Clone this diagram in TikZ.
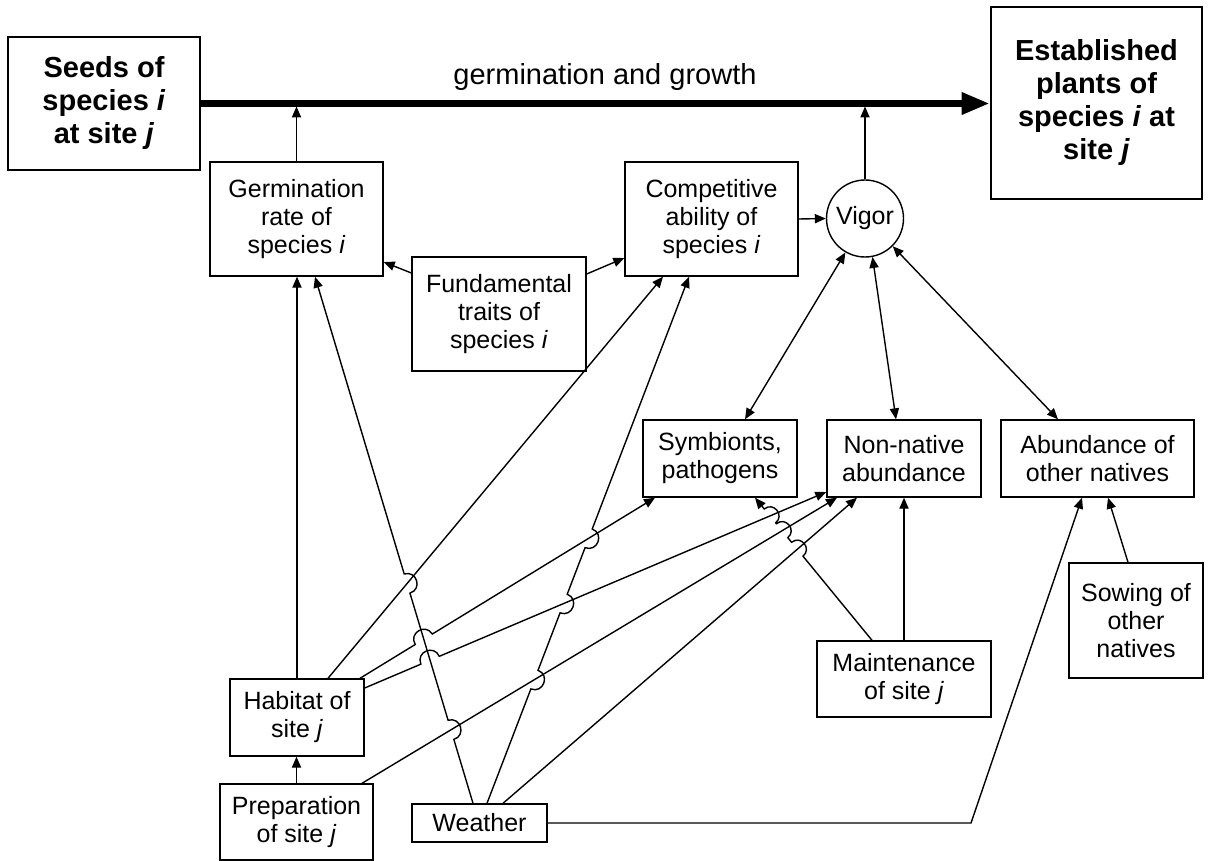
\documentclass[tikz,border=0pt]{standalone}
\usepackage{fontspec}
\setmainfont{Liberation Sans}
\usetikzlibrary{arrows.meta,calc,intersections}
\begin{document}
\begin{tikzpicture}[x=0.5pt,y=-0.5pt,
  box/.style={draw, line width=0.7pt, align=center, inner sep=0pt, font=\fontsize{12.5}{14}\selectfont},
  bigbox/.style={draw, line width=1.4pt, align=center, inner sep=0pt, font=\fontsize{14.5}{16.5}\selectfont\bfseries},
  conn/.style={line width=0.7pt, -{Triangle[length=5.5pt,width=4.6pt]}},
  both/.style={line width=0.7pt, {Triangle[length=5.5pt,width=4.6pt]}-{Triangle[length=5.5pt,width=4.6pt]}},
  hopl/.style={bend left=90, looseness=1.7},
  hopr/.style={bend right=90, looseness=1.7},
]
\useasboundingbox (0,0) rectangle (1225,861);

% main nodes
\node[bigbox, minimum width=96pt, minimum height=66.5pt] (seeds) at (104,103.5) {Seeds of\\species \textit{i}\\at site \textit{j}};
\node[bigbox, minimum width=105.5pt, minimum height=96pt] (est) at (1096.5,103) {Established\\plants of\\species \textit{i} at\\site \textit{j}};
\node[box, minimum width=86.5pt, minimum height=57pt] (germ) at (296.5,219) {Germination\\rate of\\species \textit{i}};
\node[box, minimum width=86.5pt, minimum height=57pt] (comp) at (711.5,219) {Competitive\\ability of\\species \textit{i}};
\node[box, minimum width=87pt, minimum height=57pt] (fund) at (499,314) {Fundamental\\traits of\\species \textit{i}};
\node[box, circle, minimum size=38.5pt] (vigor) at (865,218.5) {Vigor};
\node[box, minimum width=77pt, minimum height=38.5pt] (symb) at (720,458.5) {Symbionts,\\pathogens};
\node[box, minimum width=77pt, minimum height=38.5pt] (nn) at (904,458.5) {Non-native\\abundance};
\node[box, minimum width=96.5pt, minimum height=38.5pt] (abund) at (1097.5,458.5) {Abundance of\\other natives};
\node[box, minimum width=67pt, minimum height=57.5pt] (sow) at (1136,620.5) {Sowing of\\other\\natives};
\node[box, minimum width=87pt, minimum height=38pt] (maint) at (904,679) {Maintenance\\of site \textit{j}};
\node[box, minimum width=67pt, minimum height=38.5pt] (hab) at (297,717.5) {Habitat of\\site \textit{j}};
\node[box, minimum width=76.5pt, minimum height=38pt] (prep) at (296.5,822) {Preparation\\of site \textit{j}};
\node[box, minimum width=67.5pt, minimum height=19pt] (wea) at (479.5,823) {Weather};

% germination and growth
\draw[line width=3.3pt, -{Triangle[length=14pt,width=10.5pt]}] (seeds.east) -- (seeds.east -| est.west);
\node[font=\fontsize{14.5}{16.5}\selectfont, anchor=base] (lab) at (605,85) {germination and growth};

\coordinate (gA) at (germ.north |- 0,106.5);
\coordinate (vA) at (vigor.north |- 0,106.5);
\draw[conn] (germ.north) -- (gA);
\draw[conn] (vigor.north) -- (vA);

% traits
\draw[conn] (fund.west |- 0,273) -- (germ.east |- 0,262);
\draw[conn] (fund.east |- 0,274) -- (comp.west |- 0,258);
\draw[conn] (comp.east) -- (vigor.west);

% vigor interactions
\draw[both] (vigor.240) -- (symb.north -| 745,0);
\draw[both] (vigor.281) -- (nn.north -| 896,0);
\draw[both] (vigor.315) -- (abund.north -| 1058,0);

% endpoints of crossing connectors
\coordinate (w2) at (wea.north -| 473,0);
\coordinate (g2) at (germ.south -| 315,0);
\coordinate (h3) at (hab.north -| 328,0);
\coordinate (c3) at (comp.south -| 663,0);
\coordinate (h4) at (hab.north -| 360,0);
\coordinate (s4) at (symb.south -| 655,0);
\coordinate (h5) at (hab.east |- 0,688);
\coordinate (n5) at (nn.west |- 0,492);
\coordinate (p6) at (prep.north -| 362,0);
\coordinate (n6) at (nn.south -| 837,0);
\coordinate (w7) at (wea.north -| 487,0);
\coordinate (c7) at (comp.south -| 689,0);
\coordinate (w8) at (wea.north -| 503,0);
\coordinate (n8) at (nn.south -| 857,0);
\coordinate (m11) at (maint.north -| 872,0);
\coordinate (s11) at (symb.south -| 755,0);

\path[name path=L2] (w2) -- (g2);
\path[name path=L3] (h3) -- (c3);
\path[name path=L4] (h4) -- (s4);
\path[name path=L5] (h5) -- (n5);
\path[name path=L6] (p6) -- (n6);
\path[name path=L7] (w7) -- (c7);
\path[name path=L8] (w8) -- (n8);
\path[name path=L11] (m11) -- (s11);

\path[name intersections={of=L2 and L3, by=x23}];
\path[name intersections={of=L2 and L6, by=x26}];
\path[name intersections={of=L4 and L2, by=x42}];
\path[name intersections={of=L5 and L2, by=x52}];
\path[name intersections={of=L7 and L4, by=x74}];
\path[name intersections={of=L7 and L5, by=x75}];
\path[name intersections={of=L7 and L6, by=x76}];
\path[name intersections={of=L11 and L5, by=xm5}];
\path[name intersections={of=L11 and L6, by=xm6}];
\path[name intersections={of=L11 and L8, by=xm8}];

% lower connectors
\draw[conn] (hab.north) -- (hab.north |- germ.south);
\draw[conn] (prep.north) -- (prep.north |- hab.south);
\draw[conn] (w2) -- ($(x26)!5pt!(w2)$) to[hopr] ($(x26)!5pt!(g2)$)
  -- ($(x23)!5pt!(w2)$) to[hopr] ($(x23)!5pt!(g2)$) -- (g2);
\draw[conn] (h3) -- (c3);
\draw[conn] (h4) -- ($(x42)!5pt!(h4)$) to[hopl] ($(x42)!5pt!(s4)$) -- (s4);
\draw[conn] (h5) -- ($(x52)!5pt!(h5)$) to[hopl] ($(x52)!5pt!(n5)$) -- (n5);
\draw[conn] (p6) -- (n6);
\draw[conn] (w7) -- ($(x76)!5pt!(w7)$) to[hopr] ($(x76)!5pt!(c7)$)
  -- ($(x75)!5pt!(w7)$) to[hopr] ($(x75)!5pt!(c7)$)
  -- ($(x74)!5pt!(w7)$) to[hopr] ($(x74)!5pt!(c7)$) -- (c7);
\draw[conn] (w8) -- (n8);
\draw[conn] (m11) -- ($(xm8)!4.5pt!(m11)$) to[hopr] ($(xm8)!4.5pt!(s11)$)
  -- ($(xm6)!4.5pt!(m11)$) to[hopr] ($(xm6)!4.5pt!(s11)$)
  -- ($(xm5)!4.5pt!(m11)$) to[hopr] ($(xm5)!4.5pt!(s11)$) -- (s11);
\draw[conn] (maint.north) -- (maint.north |- nn.south);
\draw[conn] (wea.east) -- (wea.east -| 971,0) -- (abund.south -| 1082,0);
\draw[conn] (sow.north -| 1128,0) -- (abund.south -| 1108,0);
\end{tikzpicture}
\end{document}
